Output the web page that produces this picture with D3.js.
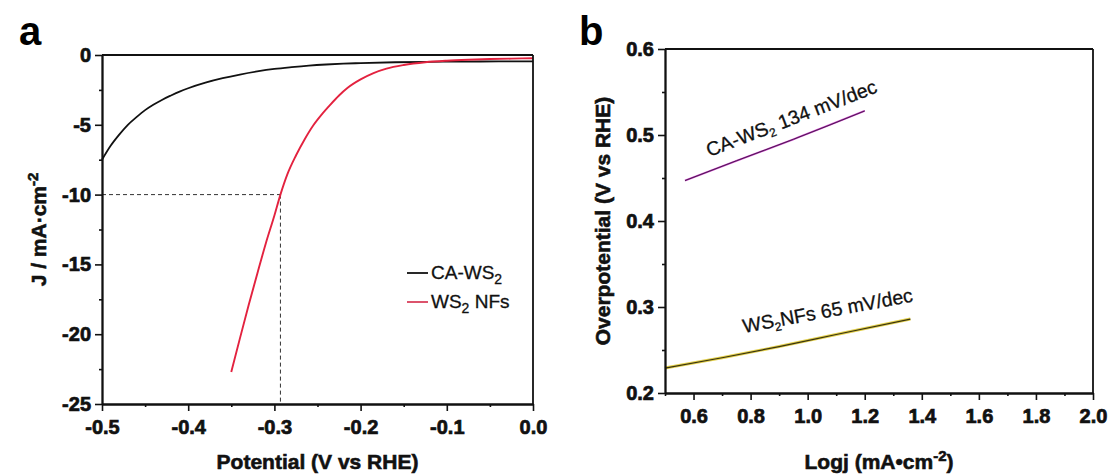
<!DOCTYPE html>
<html><head><meta charset="utf-8">
<script src="https://cdn.jsdelivr.net/npm/d3@7"></script>
<style>
body{margin:0;background:#fff} svg{display:block}
.axis text{font-family:'Liberation Sans', Arial, Helvetica, sans-serif; font-weight:700; font-size:20px; fill:#111; stroke:#111; stroke-width:0.7px}
.title{stroke:#111; stroke-width:0.6px}
.note{stroke:#111; stroke-width:0.3px}
</style>
</head><body><svg id="c" width="1115" height="476"></svg>
<script>
// ---------- Panel a data (LSV) ----------
const potentialCA = [-0.50,-0.49,-0.48,-0.47,-0.46,-0.45,-0.44,-0.43,-0.42,-0.41,-0.40,-0.38,-0.36,-0.34,-0.32,-0.30,-0.28,-0.26,-0.24,-0.22,-0.20,-0.16,-0.12,-0.08,-0.04,0.00];
const currentCA   = [-7.5,-6.5,-5.7,-5.0,-4.45,-3.95,-3.55,-3.2,-2.9,-2.62,-2.38,-1.98,-1.66,-1.4,-1.18,-1.0,-0.87,-0.76,-0.68,-0.62,-0.58,-0.52,-0.49,-0.47,-0.46,-0.45];
const potentialNF = [-0.350,-0.340,-0.330,-0.320,-0.310,-0.300,-0.293,-0.285,-0.275,-0.265,-0.255,-0.245,-0.235,-0.225,-0.215,-0.200,-0.185,-0.170,-0.150,-0.125,-0.100,-0.075,-0.050,-0.025,0.000];
const currentNF   = [-22.7,-20.3,-17.95,-15.7,-13.5,-11.5,-10.0,-8.55,-7.2,-6.05,-5.05,-4.25,-3.55,-2.9,-2.35,-1.75,-1.3,-0.98,-0.72,-0.52,-0.41,-0.34,-0.29,-0.26,-0.23];
const guidePotential = -0.293;
const guideCurrent = -10;
const xTicksA = [-0.5,-0.4,-0.3,-0.2,-0.1,0.0];
const yTicksA = [0,-5,-10,-15,-20,-25];
const legendA = ["CA-WS", "WS"];

// ---------- Panel b data (Tafel) ----------
const logjCA = [0.57,0.75,0.95,1.2];
const etaCA  = [0.447,0.470,0.495,0.528];
const logjNF = [0.50,0.70,0.90,1.10,1.36];
const etaNF  = [0.229,0.241,0.254,0.268,0.286];
const xTicksB = [0.6,0.8,1.0,1.2,1.4,1.6,1.8,2.0];
const yTicksB = [0.2,0.3,0.4,0.5,0.6];

const FONT = "'Liberation Sans', Arial, Helvetica, sans-serif";
const svg = d3.select('#c');
const fmt1 = d => d3.format('.1f')(d).replace('\u2212', '-');
const fmt0 = d => d3.format('d')(d).replace('\u2212', '-');

function drawAxes(g, x, y, xt, yt, xMinor, yMinor, xfmt, yfmt) {
  const ax = g.append('g').attr('class', 'axis').attr('transform', `translate(0,${y.range()[0]})`)
    .call(d3.axisBottom(x).tickValues(xt).tickSize(7).tickSizeOuter(0).tickPadding(9).tickFormat(xfmt));
  const axm = g.append('g').attr('class', 'axis').attr('transform', `translate(0,${y.range()[0]})`)
    .call(d3.axisBottom(x).tickValues(xMinor).tickSize(3).tickSizeOuter(0).tickFormat(''));
  const ay = g.append('g').attr('class', 'axis').attr('transform', `translate(${x.range()[0]},0)`)
    .call(d3.axisLeft(y).tickValues(yt).tickSize(7).tickSizeOuter(0).tickPadding(4).tickFormat(yfmt));
  const aym = g.append('g').attr('class', 'axis').attr('transform', `translate(${x.range()[0]},0)`)
    .call(d3.axisLeft(y).tickValues(yMinor).tickSize(3).tickSizeOuter(0).tickFormat(''));
  [ax, axm, ay, aym].forEach(a => {
    a.attr('font-family', FONT).attr('font-size', 20).attr('font-weight', 'bold');
    a.select('.domain').attr('stroke', '#111').attr('stroke-width', 1.8);
    a.selectAll('.tick line').attr('stroke', '#111').attr('stroke-width', 1.6);
    a.selectAll('text').attr('font-weight', 'bold').attr('fill', '#111');
  });
  // frame top & right
  g.append('line').attr('x1', x.range()[0]).attr('x2', x.range()[1])
    .attr('y1', y.range()[1]).attr('y2', y.range()[1]).attr('stroke', '#111').attr('stroke-width', 1.8);
  g.append('line').attr('x1', x.range()[1]).attr('x2', x.range()[1])
    .attr('y1', y.range()[1]).attr('y2', y.range()[0]).attr('stroke', '#111').attr('stroke-width', 1.8);
}

function range(a, b, s) { const r = []; for (let v = a; v <= b + 1e-9; v += s) r.push(+v.toFixed(4)); return r; }

// ================= Panel a =================
const xA = d3.scaleLinear().domain([-0.5, 0]).range([102, 533]);
const yA = d3.scaleLinear().domain([-25, 0]).range([404, 55]);
const gA = svg.append('g');

// dashed guides
gA.append('line').attr('x1', xA(-0.5)).attr('x2', xA(guidePotential))
  .attr('y1', yA(guideCurrent)).attr('y2', yA(guideCurrent))
  .attr('stroke', '#333').attr('stroke-width', 1).attr('stroke-dasharray', '4,3');
gA.append('line').attr('x1', xA(guidePotential)).attr('x2', xA(guidePotential))
  .attr('y1', yA(guideCurrent)).attr('y2', yA(-25))
  .attr('stroke', '#333').attr('stroke-width', 1).attr('stroke-dasharray', '4,3');

const lineA = d3.line().x(d => xA(d[0])).y(d => yA(d[1])).curve(d3.curveMonotoneX);
gA.append('path').datum(potentialCA.map((v, i) => [v, currentCA[i]]))
  .attr('d', lineA).attr('fill', 'none').attr('stroke', '#111').attr('stroke-width', 1.8);
gA.append('path').datum(potentialNF.map((v, i) => [v, currentNF[i]]))
  .attr('d', lineA).attr('fill', 'none').attr('stroke', '#e3223f').attr('stroke-width', 1.9);

drawAxes(gA, xA, yA, xTicksA, yTicksA, range(-0.45, -0.05, 0.1), range(-22.5, -2.5, 5), fmt1, fmt0);

// legend
const legColors = ['#111', '#d9405c'];
legendA.forEach((name, i) => {
  const ly = 273 + i * 29;
  gA.append('line').attr('x1', 407).attr('x2', 428).attr('y1', ly).attr('y2', ly)
    .attr('stroke', legColors[i]).attr('stroke-width', 1.8);
  const t = gA.append('text').attr('class', 'note').attr('x', 431).attr('y', ly + 6)
    .attr('font-family', FONT).attr('font-size', 19).attr('fill', '#111');
  t.append('tspan').text(name);
  t.append('tspan').attr('font-size', 14).attr('dy', 5).text('2');
  if (i === 1) t.append('tspan').attr('dy', -5).text(' NFs');
});

// axis titles
gA.append('text').attr('class', 'title').attr('x', (xA.range()[0] + xA.range()[1]) / 2).attr('y', 469)
  .attr('text-anchor', 'middle').attr('font-family', FONT).attr('font-weight', 'bold')
  .attr('font-size', 21).attr('fill', '#111').text('Potential (V vs RHE)');
const tyA = gA.append('text').attr('class', 'title').attr('transform', `translate(46,${(yA.range()[0] + yA.range()[1]) / 2}) rotate(-90)`)
  .attr('text-anchor', 'middle').attr('font-family', FONT).attr('font-weight', 'bold')
  .attr('font-size', 21).attr('fill', '#111');
tyA.append('tspan').text('J / mA·cm');
tyA.append('tspan').attr('font-size', 15).attr('dy', -8).text('-2');

svg.append('text').attr('x', 19).attr('y', 45).attr('font-family', FONT).attr('font-weight', 'bold')
  .attr('font-size', 40).attr('fill', '#000').text('a');

// ================= Panel b =================
const xB = d3.scaleLinear().domain([0.5, 2.0]).range([665, 1093]);
const yB = d3.scaleLinear().domain([0.2, 0.6]).range([393, 49]);
const gB = svg.append('g');

const lineB = d3.line().x(d => xB(d[0])).y(d => yB(d[1])).curve(d3.curveMonotoneX);
const caData = logjCA.map((v, i) => [v, etaCA[i]]);
const nfData = logjNF.map((v, i) => [v, etaNF[i]]);
gB.append('path').datum(caData).attr('d', lineB).attr('fill', 'none').attr('stroke', '#cc44cc').attr('stroke-width', 1.9);
gB.append('path').datum(caData).attr('d', lineB).attr('fill', 'none').attr('stroke', '#3b1840').attr('stroke-width', 0.9);
gB.append('path').datum(nfData).attr('d', lineB).attr('fill', 'none').attr('stroke', '#e2cf4a').attr('stroke-width', 3);
gB.append('path').datum(nfData).attr('d', lineB).attr('fill', 'none').attr('stroke', '#3a3410').attr('stroke-width', 1.2);

drawAxes(gB, xB, yB, xTicksB, yTicksB, range(0.5, 1.9, 0.2), range(0.25, 0.55, 0.1), fmt1, fmt1);

// annotations
const annCA = gB.append('text').attr('class', 'note').attr('transform', `translate(${xB(0.655)},${yB(0.4744)}) rotate(-21)`)
  .attr('font-family', FONT).attr('font-size', 19.5).attr('fill', '#111');
annCA.append('tspan').text('CA-WS');
annCA.append('tspan').attr('font-size', 12).attr('dy', 4).text('2');
annCA.append('tspan').attr('dy', -4).text(' 134 mV/dec');

const annNF = gB.append('text').attr('class', 'note').attr('transform', `translate(${xB(0.777)},${yB(0.2698)}) rotate(-10.5)`)
  .attr('font-family', FONT).attr('font-size', 19.5).attr('fill', '#111');
annNF.append('tspan').text('WS');
annNF.append('tspan').attr('font-size', 12).attr('dy', 4).text('2');
annNF.append('tspan').attr('dy', -4).text('NFs 65 mV/dec');

// axis titles
const txB = gB.append('text').attr('class', 'title').attr('x', (xB.range()[0] + xB.range()[1]) / 2).attr('y', 469)
  .attr('text-anchor', 'middle').attr('font-family', FONT).attr('font-weight', 'bold')
  .attr('font-size', 21).attr('fill', '#111');
txB.append('tspan').text('Logj (mA•cm');
txB.append('tspan').attr('font-size', 15).attr('dy', -8).text('-2');
txB.append('tspan').attr('dy', 8).text(')');

gB.append('text').attr('class', 'title').attr('transform', `translate(610,${(yB.range()[0] + yB.range()[1]) / 2}) rotate(-90)`)
  .attr('text-anchor', 'middle').attr('font-family', FONT).attr('font-weight', 'bold')
  .attr('font-size', 21).attr('fill', '#111').text('Overpotential (V vs RHE)');

svg.append('text').attr('x', 579).attr('y', 45).attr('font-family', FONT).attr('font-weight', 'bold')
  .attr('font-size', 40).attr('fill', '#000').text('b');
</script>
</body></html>
